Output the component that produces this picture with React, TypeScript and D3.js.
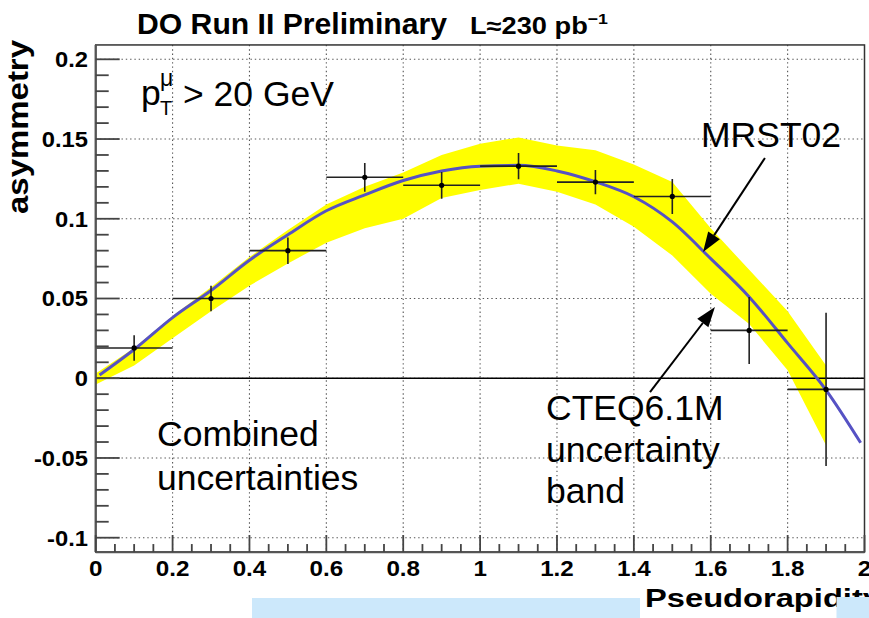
import React from "react";
import * as d3 from "d3";

// Measured W charge asymmetry vs muon pseudorapidity
const etaCenters = [0.1, 0.3, 0.5, 0.7, 0.9, 1.1, 1.3, 1.5, 1.7, 1.9];
const etaHalfWidth = 0.1;
const asymValues = [0.019, 0.050, 0.080, 0.126, 0.121, 0.133, 0.123, 0.114, 0.030, -0.007];
const asymErrors = [0.008, 0.008, 0.0083, 0.009, 0.0084, 0.0082, 0.0076, 0.011, 0.021, 0.048];

// MRST02 prediction
const mrstEta = [0.01, 0.1, 0.2, 0.3, 0.4, 0.5, 0.6, 0.7, 0.8, 0.9, 1.0, 1.1, 1.2, 1.3, 1.4, 1.5, 1.6, 1.7, 1.8, 1.9, 1.99];
const mrstAsym = [0.002, 0.018, 0.038, 0.055, 0.074, 0.090, 0.105, 0.115, 0.124, 0.130, 0.133, 0.1335, 0.130, 0.1232, 0.1138, 0.098, 0.075, 0.051, 0.022, -0.0074, -0.0405];

// CTEQ6.1M uncertainty band
const bandEta = [0.0, 0.1, 0.2, 0.3, 0.4, 0.5, 0.6, 0.7, 0.8, 0.9, 1.0, 1.1, 1.2, 1.3, 1.4, 1.5, 1.6, 1.7, 1.8, 1.9];
const bandUpper = [0.003, 0.019, 0.039, 0.057, 0.076, 0.093, 0.109, 0.120, 0.129, 0.140, 0.147, 0.151, 0.146, 0.143, 0.134, 0.123, 0.094, 0.068, 0.042, 0.008];
const bandLower = [-0.004, 0.008, 0.025, 0.042, 0.058, 0.072, 0.085, 0.094, 0.100, 0.113, 0.118, 0.122, 0.117, 0.109, 0.095, 0.077, 0.053, 0.034, 0.005, -0.042];

const xTicks = [0, 0.2, 0.4, 0.6, 0.8, 1, 1.2, 1.4, 1.6, 1.8, 2];
const xTickLabels = ["0", "0.2", "0.4", "0.6", "0.8", "1", "1.2", "1.4", "1.6", "1.8", "2"];
const yTicks = [-0.1, -0.05, 0, 0.05, 0.1, 0.15, 0.2];
const yTickLabels = ["-0.1", "-0.05", "0", "0.05", "0.1", "0.15", "0.2"];

const W = 869;
const H = 618;
const FONT = "'Liberation Sans', Arial, Helvetica, sans-serif";

const x = d3.scaleLinear().domain([0, 2]).range([95.7, 864.5]);
const y = d3.scaleLinear().domain([-0.1, 0.2]).range([537.7, 59.3]);
const yMin = -0.109;
const yMax = 0.209;

function Arrow({ x1, y1, x2, y2 }: { x1: number; y1: number; x2: number; y2: number }) {
  const ang = Math.atan2(y2 - y1, x2 - x1);
  const len = 20;
  const half = 7;
  const bx = x2 - len * Math.cos(ang);
  const by = y2 - len * Math.sin(ang);
  const px = -Math.sin(ang) * half;
  const py = Math.cos(ang) * half;
  return (
    <g>
      <line x1={x1} y1={y1} x2={bx} y2={by} stroke="#000" strokeWidth={2} />
      <polygon points={`${x2},${y2} ${bx + px},${by + py} ${bx - px},${by - py}`} fill="#000" />
    </g>
  );
}

export default function App() {
  const left = x(0);
  const right = x(2);
  const top = y(yMax);
  const bottom = y(yMin);

  const bandArea = d3
    .area<number>()
    .x((_, i) => x(bandEta[i]))
    .y0((_, i) => y(bandLower[i]))
    .y1((_, i) => y(bandUpper[i]))
    .curve(d3.curveLinear);

  const mrstLine = d3
    .line<number>()
    .x((_, i) => x(mrstEta[i]))
    .y((_, i) => y(mrstAsym[i]))
    .curve(d3.curveMonotoneX);

  const yMinor = d3.range(-10, 21).map((k) => k / 100).filter((v) => Math.round(v * 1000) % 50 !== 0);
  const xMinor = d3.range(0, 41).map((k) => k * 0.05).filter((v) => Math.round(v * 1000) % 200 !== 0);

  return (
    <svg
      width={W}
      height={H}
      style={{ position: "absolute", left: 0, top: 0, background: "#fff" }}
      fontFamily={FONT}
    >
      <rect x={0} y={0} width={W} height={H} fill="#fff" />
      <defs>
        <clipPath id="plotArea">
          <rect x={left} y={top} width={right - left} height={bottom - top} />
        </clipPath>
      </defs>

      {/* grid */}
      <g stroke="#555" strokeWidth={1.1} strokeDasharray="1.4 2.9">
        {xTicks.slice(1, -1).map((t) => (
          <line key={"gx" + t} x1={x(t)} x2={x(t)} y1={top} y2={bottom} />
        ))}
        {yTicks.map((t) => (
          <line key={"gy" + t} x1={left} x2={right} y1={y(t)} y2={y(t)} />
        ))}
      </g>

      <g clipPath="url(#plotArea)">
        <path d={bandArea(bandEta) ?? ""} fill="#ffff00" />
        <line x1={left} x2={right} y1={y(0)} y2={y(0)} stroke="#000" strokeWidth={1.3} />
        <path d={mrstLine(mrstEta) ?? ""} fill="none" stroke="#5652c4" strokeWidth={3} />

        {/* data points with error bars */}
        <g stroke="#222" strokeWidth={1.6}>
          {etaCenters.map((e, i) => (
            <g key={"pt" + i}>
              <line x1={x(e - etaHalfWidth)} x2={x(e + etaHalfWidth)} y1={y(asymValues[i])} y2={y(asymValues[i])} />
              <line x1={x(e)} x2={x(e)} y1={y(asymValues[i] - asymErrors[i])} y2={y(asymValues[i] + asymErrors[i])} />
              <circle cx={x(e)} cy={y(asymValues[i])} r={2.6} fill="#000" stroke="none" />
            </g>
          ))}
        </g>
      </g>

      {/* frame and axes */}
      <rect x={left} y={top} width={right - left} height={bottom - top} fill="none" stroke="#333" strokeWidth={1.5} />
      <line x1={left} x2={left} y1={top} y2={bottom} stroke="#555" strokeWidth={2.2} />
      <line x1={left} x2={right} y1={bottom} y2={bottom} stroke="#555" strokeWidth={2.2} />

      {/* ticks */}
      <g stroke="#444" strokeWidth={1.8}>
        {yTicks.map((t) => (
          <line key={"yt" + t} x1={left} x2={left + 24} y1={y(t)} y2={y(t)} />
        ))}
        {yMinor.map((t) => (
          <line key={"ym" + t} x1={left} x2={left + 13} y1={y(t)} y2={y(t)} />
        ))}
        {xTicks.map((t) => (
          <line key={"xt" + t} x1={x(t)} x2={x(t)} y1={bottom} y2={bottom - 17} />
        ))}
        {xMinor.map((t) => (
          <line key={"xm" + t} x1={x(t)} x2={x(t)} y1={bottom} y2={bottom - 8} />
        ))}
      </g>

      {/* tick labels */}
      <g fontWeight="bold" fontSize={22} fill="#000">
        {yTicks.map((t, i) => (
          <text key={"yl" + t} transform={`translate(88,${y(t) + 7.8}) scale(1.08,1)`} textAnchor="end">
            {yTickLabels[i]}
          </text>
        ))}
        {xTicks.map((t, i) => (
          <text key={"xl" + t} transform={`translate(${x(t)},${bottom + 24}) scale(1.1,1)`} textAnchor="middle">
            {xTickLabels[i]}
          </text>
        ))}
      </g>

      {/* axis titles */}
      <text
        transform="translate(28,127) rotate(-90)"
        textAnchor="middle"
        fontWeight="bold"
        fontSize={29}
        textLength={174}
        lengthAdjust="spacingAndGlyphs"
      >
        asymmetry
      </text>

      <rect x={252} y={598} width={388} height={20} fill="#cce8fb" />
      <text x={645} y={607} fontWeight="bold" fontSize={26} textLength={236} lengthAdjust="spacingAndGlyphs">
        Pseudorapidity
      </text>
      <rect x={836.5} y={597} width={32.5} height={21} fill="#cce8fb" />

      {/* title */}
      <text x={137} y={34} fontWeight="bold" fontSize={30} textLength={310} lengthAdjust="spacingAndGlyphs">
        DO Run II Preliminary
      </text>
      <text x={470} y={34} fontWeight="bold" fontSize={23} textLength={138} lengthAdjust="spacingAndGlyphs">
        L≈230 pb<tspan dy={-10} fontSize={15}>−1</tspan>
      </text>

      {/* plot annotations */}
      <g fontSize={35.5} fill="#000">
        <text x={141} y={105}>p</text>
        <text x={160} y={86} fontSize={23}>μ</text>
        <text x={160} y={115} fontSize={20}>T</text>
        <text x={183} y={106}>&gt; 20 GeV</text>

        <text x={701} y={147}>MRST02</text>

        <text x={157} y={446}>Combined</text>
        <text x={157} y={490}>uncertainties</text>

        <text x={546} y={420}>CTEQ6.1M</text>
        <text x={546} y={462}>uncertainty</text>
        <text x={546} y={503}>band</text>
      </g>

      <Arrow x1={x(1.741)} y1={y(0.1381)} x2={x(1.58)} y2={y(0.0791)} />
      <Arrow x1={x(1.442)} y1={y(-0.0087)} x2={x(1.611)} y2={y(0.0446)} />
    </svg>
  );
}
